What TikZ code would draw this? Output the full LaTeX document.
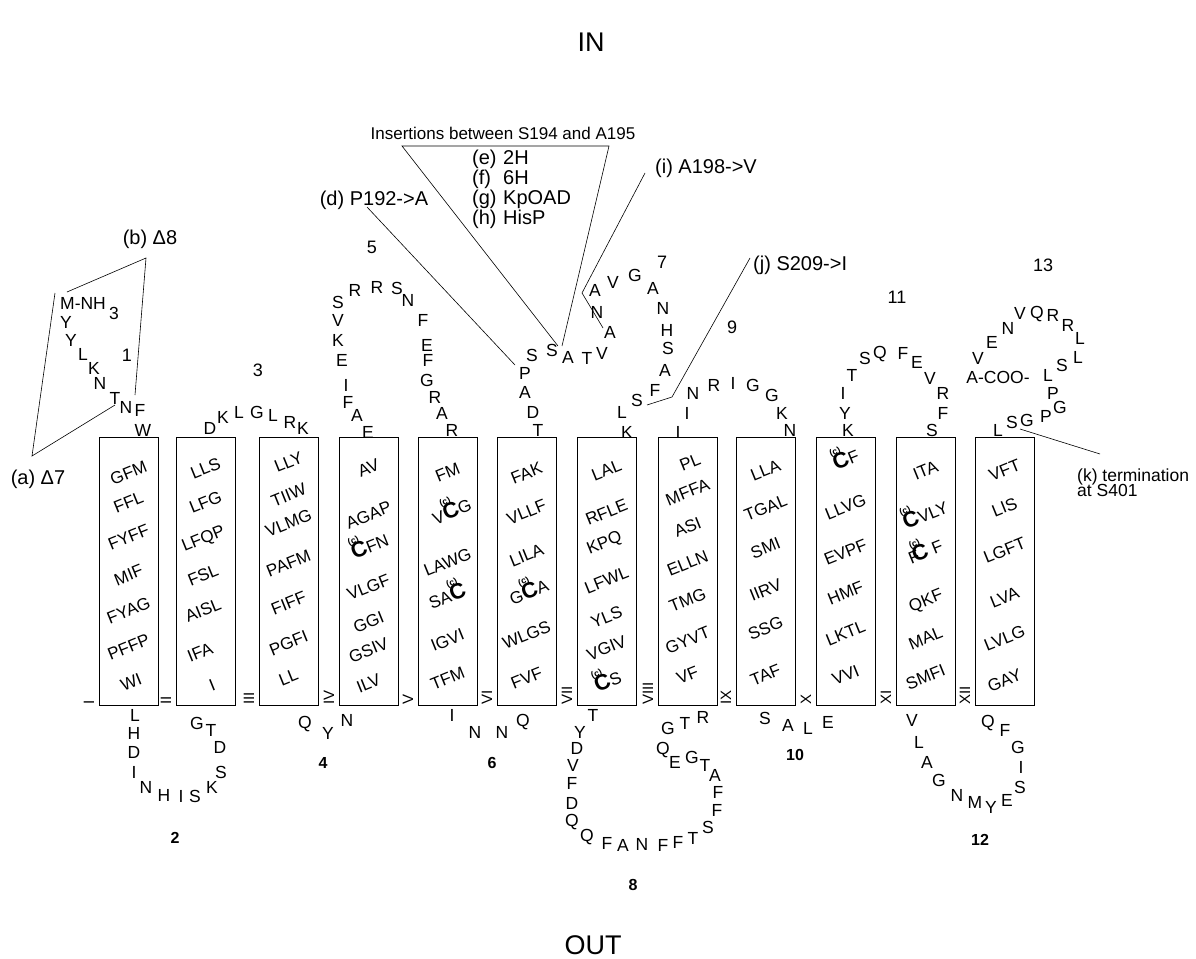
\documentclass[tikz,border=0pt]{standalone}
\usepackage{fontspec}
\setmainfont{Liberation Sans}
\newcommand{\cc}{\leavevmode\rlap{\raisebox{15pt}{\kern0.5pt\fontsize{9}{9}\selectfont\bfseries(c)}}{\fontsize{22}{22}\selectfont\bfseries C}}
\tikzset{
 res/.style={font=\fontsize{17.5}{17.5}\selectfont, inner sep=0pt, text height=12.5pt, text depth=0pt, anchor=center},
 hx/.style={font=\fontsize{17}{17}\selectfont, inner sep=0pt, text height=12pt, text depth=0pt, rotate=22},
 tmbox/.style={draw, line width=0.8pt, minimum width=59pt, minimum height=268pt, inner sep=0pt},
 rn/.style={font=\fontsize{15}{15}\selectfont, rotate=90, anchor=west, inner sep=0pt},
 ann/.style={font=\fontsize{20}{20}\selectfont, inner sep=0pt, text height=14pt, text depth=0pt},
 num/.style={font=\fontsize{18}{18}\selectfont, inner sep=0pt, text height=13pt, text depth=0pt},
 bnum/.style={font=\fontsize{16}{16}\selectfont\bfseries, inner sep=0pt, text height=11.5pt, text depth=0pt},
 big/.style={font=\fontsize{27}{27}\selectfont, inner sep=0pt, text height=19pt, text depth=0pt},
 lead/.style={line width=0.6pt},
}
\begin{document}
\begin{tikzpicture}[x=1pt,y=-1pt]
\useasboundingbox (0,0) rectangle (1196,958);
% IN / OUT
\node[big] (in) at (591,42) {IN};
\node[big] (out) at (593,945) {OUT};
% boxes
\foreach \l/\r [count=\i] in {99/I,176/II,259/III,339/IV,418/V,497/VI,577/VII,658/VIII,736/IX,816/X,896/XI,975/XII}{
  \node[tmbox] (B\i) at (\l+29.5,571) {};
  \node[rn] (R\i) at (\l-10,705) {\r};
}
% helix rows
\node[hx] (h1a) at (128.5,473) {GFM};
\node[hx] (h1b) at (128.5,502) {FFL};
\node[hx] (h1c) at (128.5,537) {FYFF};
\node[hx] (h1d) at (128.5,575) {MIF};
\node[hx] (h1e) at (128.5,610) {FYAG};
\node[hx] (h1f) at (128.5,647) {PFFP};
\node[hx] (h1g) at (131,682) {WI};
\node[hx] (h2a) at (205.5,468) {LLS};
\node[hx] (h2b) at (205.5,502) {LFG};
\node[hx] (h2c) at (203,538) {LFQP};
\node[hx] (h2d) at (203,575) {FSL};
\node[hx] (h2e) at (203,610) {AISL};
\node[hx] (h2f) at (200,652) {IFA};
\node[hx] (h2g) at (212,685) {I};
\node[hx] (h3a) at (288.5,462) {LLY};
\node[hx] (h3b) at (288.5,495) {TIIW};
\node[hx] (h3c) at (288.5,523) {VLMG};
\node[hx] (h3d) at (288.5,563) {PAFM};
\node[hx] (h3e) at (288.5,603) {FIFF};
\node[hx] (h3f) at (288.5,643) {PGFI};
\node[hx] (h3g) at (288.5,677) {LL};
\node[hx] (h4a) at (368.5,468) {AV};
\node[hx] (h4b) at (368.5,515) {AGAP};
\node[hx] (h4c) at (370,547) {\cc FN};
\node[hx] (h4d) at (368.5,587) {VLGF};
\node[hx] (h4e) at (368.5,622) {GGI};
\node[hx] (h4f) at (368.5,650) {GSIV};
\node[hx] (h4g) at (368.5,683) {ILV};
\node[hx] (h5a) at (447.5,472) {FM};
\node[hx] (h5b) at (452,512) {V\cc G};
\node[hx] (h5c) at (447.5,562) {LAWG};
\node[hx] (h5d) at (447.5,597) {SA\cc};
\node[hx] (h5e) at (447.5,640) {IGVI};
\node[hx] (h5f) at (447.5,678) {TFM};
\node[hx] (h6a) at (526.5,473) {FAK};
\node[hx] (h6b) at (526.5,512) {VLLF};
\node[hx] (h6c) at (526.5,555) {LILA};
\node[hx] (h6d) at (529,592) {G\cc A};
\node[hx] (h6e) at (526.5,635) {WLGS};
\node[hx] (h6f) at (526.5,678) {FVF};
\node[hx] (h7a) at (606.5,470) {LAL};
\node[hx] (h7b) at (606.5,512) {RFLE};
\node[hx] (h7c) at (604,542) {KPQ};
\node[hx] (h7d) at (606.5,580) {LFWL};
\node[hx] (h7e) at (606.5,617) {YLS};
\node[hx] (h7f) at (606.5,648) {VGIV};
\node[hx] (h7g) at (608,682) {\cc S};
\node[hx] (h8a) at (690,462) {PL};
\node[hx] (h8b) at (687.5,492) {MFFA};
\node[hx] (h8c) at (687.5,527) {ASI};
\node[hx] (h8d) at (687.5,563) {ELLN};
\node[hx] (h8e) at (687.5,600) {TMG};
\node[hx] (h8f) at (687.5,640) {GYVT};
\node[hx] (h8g) at (687.5,675) {VF};
\node[hx] (h9a) at (765.5,470) {LLA};
\node[hx] (h9b) at (765.5,508) {TGAL};
\node[hx] (h9c) at (765.5,548) {SMI};
\node[hx] (h9d) at (765.5,590) {IIRV};
\node[hx] (h9e) at (765.5,628) {SSG};
\node[hx] (h9f) at (765.5,675) {TAF};
\node[hx] (h10a) at (846,460) {\cc F};
\node[hx] (h10b) at (845.5,507) {LLVG};
\node[hx] (h10c) at (845.5,552) {EVPF};
\node[hx] (h10d) at (845.5,593) {HMF};
\node[hx] (h10e) at (845.5,633) {LKTL};
\node[hx] (h10f) at (845.5,675) {VVI};
\node[hx] (h11a) at (925.5,470) {ITA};
\node[hx] (h11b) at (925.5,515) {\cc VLY};
\node[hx] (h11c) at (925.5,552) {F\kern-6pt\cc\ F};
\node[hx] (h11d) at (925.5,600) {QKF};
\node[hx] (h11e) at (925.5,638) {MAL};
\node[hx] (h11f) at (925.5,677) {SMFI};
\node[hx] (h12a) at (1004.5,470) {VFT};
\node[hx] (h12b) at (1004.5,507) {LIS};
\node[hx] (h12c) at (1004.5,550) {LGFT};
\node[hx] (h12d) at (1004.5,597) {LVA};
\node[hx] (h12e) at (1004.5,638) {LVLG};
\node[hx] (h12f) at (1004.5,680) {GAY};
% loop 1 (N-terminus)
\node[res,anchor=west] (nh) at (60,303) {M-NH};
\node[res] (nh3) at (114,313) {3};
\foreach \t/\x/\y [count=\i] in {Y/66/322,Y/71/340,L/83/354,K/94/368,N/100/383,T/115/398,N/126/407,F/140/410,W/143/430}
  \node[res] (pa\i) at (\x,\y) {\t};
% loop 3
\foreach \t/\x/\y [count=\i] in {D/210/428,K/223/417,L/239/412,G/257/412,L/273/415,R/290/422,K/303/428}
  \node[res] (pc\i) at (\x,\y) {\t};
% loop 5
\foreach \t/\x/\y [count=\i] in {E/368/432,A/357/415,F/348/402,I/346/385,E/342/360,K/338/340,V/338/320,S/338/302,R/355/290,R/377/287,S/397/288,N/408/300,F/423/320,E/427/345,F/428/360,G/427/380,R/435/397,A/442/413,R/452/430}
  \node[res] (pe\i) at (\x,\y) {\t};
% loop 7
\foreach \t/\x/\y [count=\i] in {T/538/430,D/533/412,A/525/392,P/525/373,S/532/355,S/552/350,A/568/357,T/587/358,V/602/353,A/610/332,N/597/312,A/595/290,V/613/282,G/635/275,A/653/288,N/663/308,H/667/330,S/668/348,A/665/370,F/655/390,S/637/400,L/622/412,K/627/432}
  \node[res] (pg\i) at (\x,\y) {\t};
% loop 9
\foreach \t/\x/\y [count=\i] in {I/678/432,I/687/413,N/693/393,R/714/385,I/733/383,G/753/385,G/772/395,K/782/413,N/790/430}
  \node[res] (pi\i) at (\x,\y) {\t};
% loop 11
\foreach \t/\x/\y [count=\i] in {K/848/430,Y/845/413,I/843/393,T/852/375,S/865/358,Q/880/352,F/903/353,E/917/362,V/930/378,R/943/393,F/943/413,S/932/430}
  \node[res] (pk\i) at (\x,\y) {\t};
% loop 13 (C-terminus)
\foreach \t/\x/\y [count=\i] in {L/998/430,S/1012/422,G/1027/420,P/1046/416,G/1060/407,P/1053/393,L/1048/375,S/1062/365,L/1078/357,L/1080/338,R/1068/325,R/1053/315,Q/1037/312,V/1020/313,N/1008/328,E/992/342,V/978/358}
  \node[res] (pm\i) at (\x,\y) {\t};
\node[res] (cterm) at (998,377) {A-COO-};
% bottom loops
\foreach \t/\x/\y [count=\i] in {L/135/715,H/134/733,D/134/752,I/134/772,N/146/787,H/164/795,I/181/796,S/195/796,K/212/787,S/221/772,D/220/747,T/211/730,G/197/723}
  \node[res] (pb\i) at (\x,\y) {\t};
\foreach \t/\x/\y [count=\i] in {Q/305/722,Y/328/733,N/347/720}
  \node[res] (pd\i) at (\x,\y) {\t};
\foreach \t/\x/\y [count=\i] in {I/452/715,N/475/732,N/502/732,Q/523/720}
  \node[res] (pf\i) at (\x,\y) {\t};
\foreach \t/\x/\y [count=\i] in {T/593/715,Y/580/732,D/577/748,V/573/765,F/572/783,D/572/803,Q/572/820,Q/587/835,F/607/843,A/623/845,N/642/844,F/663/845,F/678/842,T/693/838,S/708/827,F/717/810,F/718/792,A/715/775,T/705/765,G/692/757,E/675/762,Q/663/748,G/668/728,T/685/723,R/703/717}
  \node[res] (ph\i) at (\x,\y) {\t};
\foreach \t/\x/\y [count=\i] in {S/765/718,A/788/725,L/808/728,E/828/722}
  \node[res] (pj\i) at (\x,\y) {\t};
\foreach \t/\x/\y [count=\i] in {V/912/720,L/919/742,A/927/762,G/939/780,N/957/795,M/975/802,Y/991/807,E/1007/800,S/1020/787,I/1021/767,G/1018/747,F/1005/730,Q/988/721}
  \node[res] (pl\i) at (\x,\y) {\t};
% loop numbers
\node[num] (n1) at (127,355) {1};
\node[num] (n3) at (258,370) {3};
\node[num] (n5) at (372,247) {5};
\node[num] (n7) at (662,262) {7};
\node[num] (n9) at (732,327) {9};
\node[num] (n11) at (897,297) {11};
\node[num] (n13) at (1043,265) {13};
\node[bnum] (n2) at (175,838) {2};
\node[bnum] (n4) at (323,763) {4};
\node[bnum] (n6) at (492,763) {6};
\node[bnum] (n8) at (633,885) {8};
\node[bnum] (n10) at (795,755) {10};
\node[bnum] (n12) at (980,840) {12};
% annotations
\node[ann] (la) at (38,477) {(a) Δ7};
\node[ann] (lb) at (150,237) {(b) Δ8};
\coordinate (a1) at (55,293); \coordinate (a2) at (32,456); \coordinate (a3) at (115,405);
\draw[lead] (a1) -- (a2) -- (a3);
\coordinate (b1) at (67,292); \coordinate (b2) at (146,258); \coordinate (b3) at (135,395);
\draw[lead] (b1) -- (b2) -- (b3);
\node[font=\fontsize{17}{17}\selectfont, inner sep=0pt, text height=12pt, text depth=0pt] (ins) at (503,133) {Insertions between S194 and A195};
\coordinate (t1) at (402,146); \coordinate (t2) at (609,146);
\coordinate (e1) at (558,346); \coordinate (e2) at (562,346);
\draw[lead] (e1) -- (t1) -- (t2) -- (e2);
\foreach \l/\v/\y [count=\i] in {(e)/2H/164,(f)/6H/184,(g)/KpOAD/204,(h)/HisP/224}{
  \node[font=\fontsize{20}{20}\selectfont, inner sep=0pt, anchor=base west] (il\i) at (472,\y) {\l};
  \node[font=\fontsize{20}{20}\selectfont, inner sep=0pt, anchor=base west] (iv\i) at (503,\y) {\v};
}
\node[ann] (ld) at (374,198) {(d) P192->A};
\coordinate (d1) at (367,207); \coordinate (d2) at (515,365);
\draw[lead] (d1) -- (d2);
\node[ann] (li) at (706,166) {(i) A198->V};
\coordinate (i1) at (645,173); \coordinate (i2) at (582,293); \coordinate (i3) at (603,328);
\draw[lead] (i1) -- (i2) -- (i3);
\node[ann,anchor=west] (lj) at (753,263) {(j) S209->I};
\coordinate (j1) at (750,258); \coordinate (j2) at (672,397); \coordinate (j3) at (647,405);
\draw[lead] (j1) -- (j2) -- (j3);
\node[font=\fontsize{17.5}{17.5}\selectfont, inner sep=0pt, text height=12.5pt, text depth=0pt, anchor=west] (lk1) at (1077,475) {(k) termination};
\node[font=\fontsize{17.5}{17.5}\selectfont, inner sep=0pt, text height=12.5pt, text depth=0pt, anchor=west] (lk2) at (1077,490) {at S401};
\coordinate (k1) at (1020,429); \coordinate (k2) at (1100,454);
\draw[lead] (k1) -- (k2);
\end{tikzpicture}
\end{document}
